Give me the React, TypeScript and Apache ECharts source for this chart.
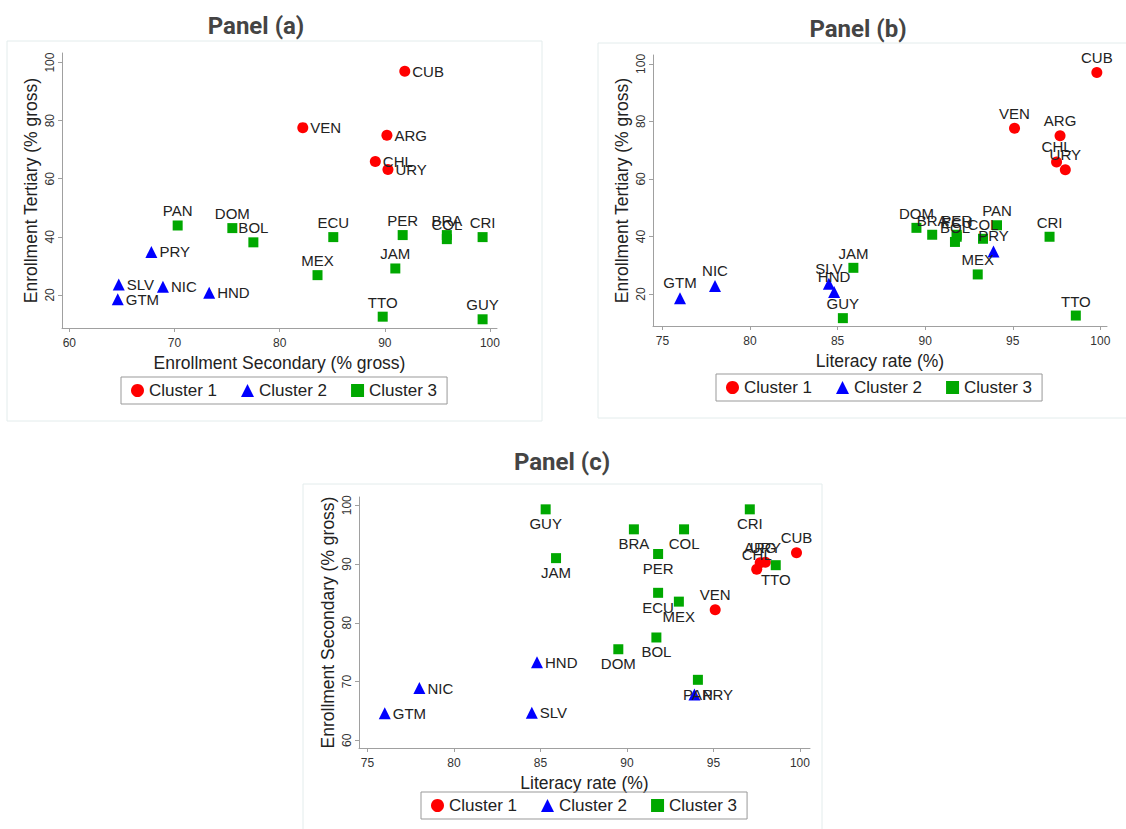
import React, { useEffect, useRef } from "react";
import * as echarts from "echarts";

// ---- data ----
const countries = ["CUB", "VEN", "ARG", "CHL", "URY", "PAN", "DOM", "BOL", "ECU", "PER", "BRA", "COL", "CRI", "JAM", "MEX", "TTO", "GUY", "PRY", "SLV", "GTM", "NIC", "HND"];
const cluster = [1, 1, 1, 1, 1, 3, 3, 3, 3, 3, 3, 3, 3, 3, 3, 3, 3, 2, 2, 2, 2, 2];
const secondary = [91.9, 82.2, 90.2, 89.1, 90.3, 70.3, 75.5, 77.5, 85.1, 91.7, 95.9, 95.9, 99.3, 91.0, 83.6, 89.8, 99.3, 67.8, 64.7, 64.6, 68.9, 73.3];
const tertiary = [97.0, 77.6, 75.0, 65.9, 63.2, 43.9, 43.0, 38.1, 39.9, 40.6, 40.6, 39.2, 39.9, 29.1, 26.8, 12.5, 11.6, 34.8, 23.6, 18.5, 22.8, 20.7];
const literacy = [99.8, 95.1, 97.7, 97.5, 98.0, 94.1, 89.5, 91.7, 91.8, 91.8, 90.4, 93.3, 97.1, 85.9, 93.0, 98.6, 85.3, 93.9, 84.5, 76.0, 78.0, 84.8];

const clusterNames = ["Cluster 1", "Cluster 2", "Cluster 3"];
const clusterColors = ["#ff0000", "#0000ff", "#00a800"];
const clusterSymbols = ["circle", "triangle", "rect"];
const clusterSymbolSizes = [11, 12, 10];

const ticksSecondary = [60, 70, 80, 90, 100];
const ticksLiteracy = [75, 80, 85, 90, 95, 100];
const ticksTertiary = [20, 40, 60, 80, 100];
const ticksSecondaryY = [60, 70, 80, 90, 100];

const panels = [
  {
    title: "Panel (a)", titleX: 256, titleY: 26, frame: [7, 41, 535, 380],
    xs: secondary, ys: tertiary,
    xName: "Enrollment Secondary (% gross)", yName: "Enrollment Tertiary (% gross)",
    grid: { left: 62, top: 53, width: 435, height: 275 },
    xMin: 59.3, xMax: 100.67, xTicks: ticksSecondary,
    yMin: 8.6, yMax: 103.3, yTicks: ticksTertiary,
    pos: ["right", "right", "top"], legendLeft: 121, legendTop: 377,
  },
  {
    title: "Panel (b)", titleX: 858, titleY: 29, frame: [598, 43, 540, 375],
    xs: literacy, ys: tertiary,
    xName: "Literacy rate (%)", yName: "Enrollment Tertiary (% gross)",
    grid: { left: 653, top: 55, width: 454, height: 271 },
    xMin: 74.46, xMax: 100.38, xTicks: ticksLiteracy,
    yMin: 8.87, yMax: 103.1, yTicks: ticksTertiary,
    pos: ["top", "top", "top"], legendLeft: 716, legendTop: 374,
  },
  {
    title: "Panel (c)", titleX: 562, titleY: 462, frame: [303, 484, 519, 360],
    xs: literacy, ys: secondary,
    xName: "Literacy rate (%)", yName: "Enrollment Secondary (% gross)",
    grid: { left: 359, top: 497, width: 451, height: 251 },
    xMin: 74.51, xMax: 100.58, xTicks: ticksLiteracy,
    yMin: 58.7, yMax: 101.4, yTicks: ticksSecondaryY,
    pos: ["top", "right", "bottom"], legendLeft: 421, legendTop: 792,
  },
];

const FONT = "'Liberation Sans', Arial, sans-serif";

function buildOption() {
  const grid: any[] = [];
  const xAxis: any[] = [];
  const yAxis: any[] = [];
  const series: any[] = [];
  const legend: any[] = [];
  const graphic: any[] = [];

  panels.forEach((p, pi) => {
    grid.push({ ...p.grid, containLabel: false });
    const axisCommon = {
      axisLine: { show: true, lineStyle: { color: "#a0a0a0", width: 1 } },
      axisTick: { show: true, length: 4, lineStyle: { color: "#a0a0a0" } },
      splitLine: { show: false },
      nameTextStyle: { fontFamily: FONT, fontSize: 17.5, color: "#222" },
    };
    xAxis.push({
      type: "value", gridIndex: pi, min: p.xMin, max: p.xMax,
      name: p.xName, nameLocation: "middle", nameGap: 26,
      ...axisCommon,
      axisTick: { ...axisCommon.axisTick, customValues: p.xTicks },
      axisLabel: { customValues: p.xTicks, fontFamily: FONT, fontSize: 12, color: "#333", margin: 9 },
    });
    yAxis.push({
      type: "value", gridIndex: pi, min: p.yMin, max: p.yMax,
      name: p.yName, nameLocation: "middle", nameGap: 22, nameRotate: 90,
      ...axisCommon,
      axisTick: { ...axisCommon.axisTick, customValues: p.yTicks },
      axisLabel: { customValues: p.yTicks, rotate: 90, fontFamily: FONT, fontSize: 12, color: "#333", margin: 6 },
    });
    for (let c = 1; c <= 3; c++) {
      const data: any[] = [];
      countries.forEach((code, i) => {
        if (cluster[i] === c) data.push({ name: code, value: [p.xs[i], p.ys[i]] });
      });
      series.push({
        type: "scatter", name: clusterNames[c - 1], xAxisIndex: pi, yAxisIndex: pi,
        symbol: clusterSymbols[c - 1], symbolSize: clusterSymbolSizes[c - 1],
        itemStyle: { color: clusterColors[c - 1], opacity: 1 },
        label: {
          show: true, formatter: "{b}", position: p.pos[c - 1], distance: 2,
          fontFamily: FONT, fontSize: 15, color: "#222",
        },
        emphasis: { disabled: true },
        data,
      });
    }
    legend.push({
      data: clusterNames, left: p.legendLeft, top: p.legendTop, orient: "horizontal",
      itemWidth: 13, itemHeight: 13, itemGap: 24, padding: [5, 10],
      borderColor: "#999", borderWidth: 1, selectedMode: false,
      textStyle: { fontFamily: FONT, fontSize: 17, color: "#222" },
    });
    graphic.push({
      type: "rect", silent: true, z: -10,
      shape: { x: p.frame[0], y: p.frame[1], width: p.frame[2], height: p.frame[3] },
      style: { fill: "none", stroke: "#e3ecec", lineWidth: 1 },
    });
    graphic.push({
      type: "text", x: p.titleX, y: p.titleY, silent: true,
      style: {
        text: p.title, fontFamily: "Roboto, 'Noto Sans', sans-serif", fontSize: 24, fontWeight: "bold",
        fill: "#444", align: "center", verticalAlign: "middle",
      },
    });
  });

  return {
    animation: false,
    backgroundColor: "#ffffff",
    grid, xAxis, yAxis, series, legend, graphic,
  };
}

export default function App() {
  const ref = useRef<HTMLDivElement>(null);
  useEffect(() => {
    if (!ref.current) return;
    const chart = echarts.init(ref.current, null, { renderer: "svg" });
    chart.setOption(buildOption() as any);
    return () => chart.dispose();
  }, []);
  return (
    <div
      ref={ref}
      style={{ position: "fixed", left: 0, top: 0, width: 1126, height: 829, background: "#fff" }}
    />
  );
}
